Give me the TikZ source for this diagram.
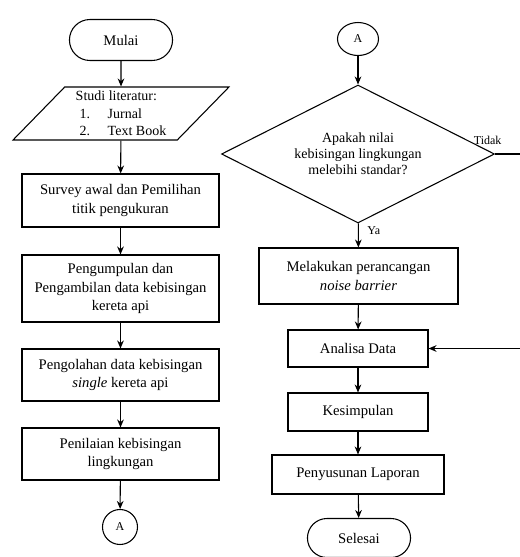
\documentclass[tikz,border=0pt]{standalone}
\usepackage{fontspec}
\setmainfont{Liberation Serif}
\usetikzlibrary{shapes.geometric,shapes.misc,arrows.meta}

\begin{document}
\begin{tikzpicture}[x=0.75pt, y=-0.75pt,
		proses/.style={draw, thick, rectangle, align=center, inner sep=1pt, font=\fontsize{11}{14}\selectfont},
		terminal/.style={draw, thick, rounded rectangle, minimum width=84pt, font=\fontsize{11}{14}\selectfont},
		konektor/.style={draw, thick, ellipse, inner sep=0pt, font=\fontsize{9}{11}\selectfont},
		panah/.style={thick, -{Stealth[length=6pt, width=5pt]}}]
				\useasboundingbox (0,0) rectangle (519,557);
				\node[terminal, minimum height=30.75pt] (mulai) at (121,40) {Mulai};
				\node[draw, thick, trapezium, trapezium left angle=47, trapezium right angle=133, trapezium stretches=true,
					minimum width=162pt, minimum height=39.75pt, inner sep=0pt, align=left,
					font=\fontsize{10.5}{13}\selectfont] (studi) at (121,113.5)
					{Studi literatur:\\ \hspace{3pt}\makebox[21pt][l]{1.}Jurnal\\ \hspace{3pt}\makebox[21pt][l]{2.}Text Book};
				\node[proses, minimum width=147.75pt, minimum height=39.75pt] (survei) at (120.5,200.5) {Survey awal dan Pemilihan\\ titik pengukuran};
				\node[proses, minimum width=147.75pt, minimum height=50.25pt] (kumpul) at (120.5,288.5) {Pengumpulan dan\\ Pengambilan data kebisingan\\ kereta api};
				\node[proses, minimum width=147.75pt, minimum height=39pt] (olah) at (120.5,375) {Pengolahan data kebisingan\\ \textit{single} kereta api};
				\node[proses, minimum width=147.75pt, minimum height=39pt] (nilai) at (120.5,454) {Penilaian kebisingan\\ lingkungan};
				\node[konektor, minimum width=26.25pt, minimum height=26.25pt] (a1) at (120,527) {A};
				\node[konektor, minimum width=30.75pt, minimum height=24.75pt] (a2) at (358,39) {A};
				\node[draw, thick, diamond, aspect=2, minimum width=204.75pt, minimum height=103.5pt, inner sep=0pt, align=center,
					font=\fontsize{10.5}{12}\selectfont] (cek) at (358,154) {Apakah nilai\\ kebisingan lingkungan\\ melebihi standar?};
				\node[proses, minimum width=149.25pt, minimum height=42pt] (rancang) at (358.5,276) {Melakukan perancangan\\ \textit{noise barrier}};
				\node[proses, minimum width=105pt, minimum height=27.75pt] (analisa) at (358,348.5) {Analisa Data};
				\node[proses, minimum width=105pt, minimum height=28.5pt] (simpul) at (358,412) {Kesimpulan};
				\node[proses, minimum width=129pt, minimum height=29.25pt] (laporan) at (358,474.5) {Penyusunan Laporan};
				\node[terminal, minimum height=29.25pt] (selesai) at (359,538) {Selesai};
				\node[anchor=south east, inner sep=0pt, font=\fontsize{9}{11}\selectfont] (tidak) at ([xshift=5pt, yshift=7pt]cek.east) {Tidak};
				\coordinate (belok) at (540,154);
				\draw[panah] (mulai) -- (studi);
				\draw[panah] (studi) -- (survei);
				\draw[panah] (survei) -- (kumpul);
				\draw[panah] (kumpul) -- (olah);
				\draw[panah] (olah) -- (nilai);
				\draw[panah] (nilai) -- (a1);
				\draw[panah] (a2) -- (cek);
				\draw[panah] (cek) -- node[right=3pt, pos=.3, font=\fontsize{9}{11}\selectfont] (ya) {Ya} (rancang);
				\draw[panah] (cek.east) -- (belok) |- (analisa.east);
				\draw[panah] (rancang) -- (analisa);
				\draw[panah] (analisa) -- (simpul);
				\draw[panah] (simpul) -- (laporan);
				\draw[panah] (laporan) -- (selesai);
\end{tikzpicture}
\end{document}
